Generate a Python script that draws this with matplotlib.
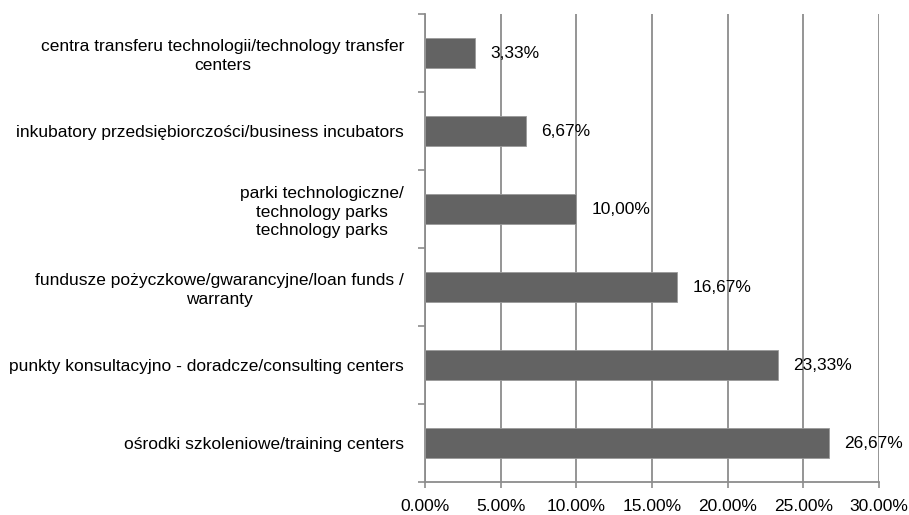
import matplotlib
matplotlib.use("Agg")
import matplotlib.pyplot as plt
import numpy as np

categories = [
    "ośrodki szkoleniowe/training centers",
    "punkty konsultacyjno - doradcze/consulting centers",
    "fundusze pożyczkowe/gwarancyjne/loan funds /\nwarranty",
    "parki technologiczne/\ntechnology parks\ntechnology parks",
    "inkubatory przedsiębiorczości/business incubators",
    "centra transferu technologii/technology transfer\ncenters",
]
values = [26.67, 23.33, 16.67, 10.00, 6.67, 3.33]
value_labels = ["26,67%", "23,33%", "16,67%", "10,00%", "6,67%", "3,33%"]
xticks = [0, 5, 10, 15, 20, 25, 30]
xtick_labels = ["0.00%", "5.00%", "10.00%", "15.00%", "20.00%", "25.00%", "30.00%"]

plt.rcParams['font.family'] = ['Liberation Sans', 'DejaVu Sans']

fig = plt.figure(figsize=(9.09, 5.15), dpi=100)
ax = fig.add_axes([425/909, 1 - 482/515, (879-425)/909, (482-14)/515])

grid_c = "#8c8c8c"
y = np.arange(len(categories))
ax.barh(y, values, height=0.39, color="#636363", edgecolor="#9a9a9a", linewidth=0.6, zorder=3)

ax.set_xlim(0, 30)
ax.set_ylim(-0.5, len(categories) - 0.5)
ax.set_xticks(xticks)
ax.set_xticklabels(xtick_labels, fontsize=12.5)
ax.set_yticks(y)
ax.set_yticklabels(categories, fontsize=12.5, ha="right", multialignment="center",
                   linespacing=1.3)
ax.set_yticks(np.arange(-0.5, len(categories)), minor=True)
ax.tick_params(axis="y", which="major", length=0, pad=15)
ax.tick_params(axis="y", which="minor", length=5, color=grid_c, width=1.2)
ax.tick_params(axis="x", length=4, color=grid_c, width=1.2, pad=8)

ax.xaxis.grid(True, color=grid_c, linewidth=1.3, zorder=0)
for s in ["top", "right"]:
    ax.spines[s].set_visible(False)
for s in ["left", "bottom"]:
    ax.spines[s].set_color(grid_c)
    ax.spines[s].set_linewidth(1.3)

for yi, v, t in zip(y, values, value_labels):
    ax.annotate(t, (v, yi), xytext=(11, 0), textcoords="offset points",
                va="center", ha="left", fontsize=12.5, zorder=4)

fig.savefig("out.png", dpi=100)
